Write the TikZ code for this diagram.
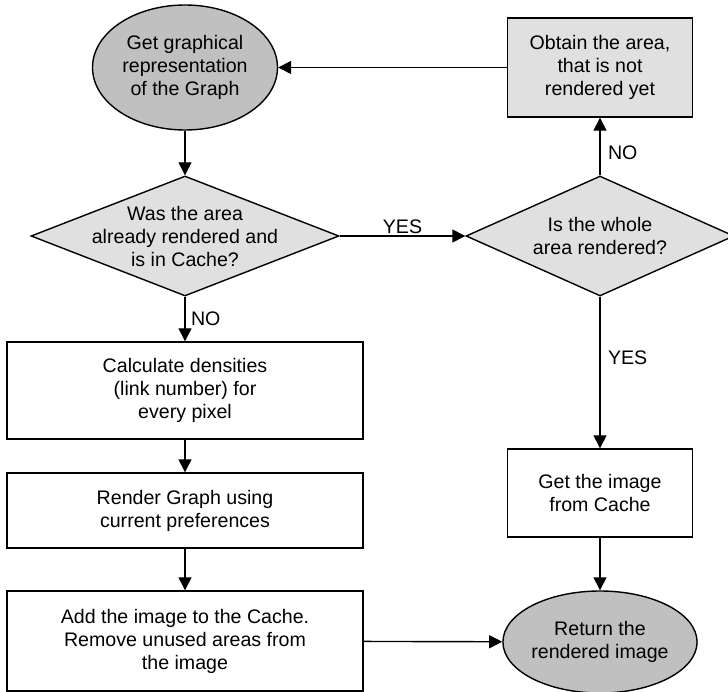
\documentclass[tikz,border=0pt]{standalone}
\usepackage{fontspec}
\setmainfont{Liberation Sans}
\usetikzlibrary{shapes.geometric,arrows.meta}
\definecolor{darkfill}{RGB}{192,192,192}
\definecolor{lightfill}{RGB}{224,224,224}

\begin{document}
\begin{tikzpicture}[x = 1pt, y = -1pt, line width = 1.4pt,
                        font = \fontsize{19.6}{23}\selectfont,
                        term/.style = {ellipse, draw, fill = darkfill, minimum width = 185pt, inner sep = 0pt, align = center},
                        ask/.style = {diamond, draw, fill = lightfill, minimum height = 120pt, align = center},
                        task/.style = {rectangle, draw, minimum width = 185pt, inner sep = 0pt, align = center},
                        flow/.style = {-{Triangle[length = 13pt, width = 13pt]}}]
      \useasboundingbox (0, 0) rectangle (728, 692);
      \node [term, minimum height = 125pt] (getrep) at (185, 67.5){Get graphical\\representation\\of the Graph};
      \node [ask, aspect = 2.567, inner sep = -10pt, minimum width = 308pt] (incache) at (185, 236){Was the area\\already rendered and\\is in Cache?};
      \node [task, minimum width = 356pt, minimum height = 97pt] (density) at (185, 390.5){Calculate densities\\ (link number) for\\every pixel};
      \node [task, minimum width = 356pt, minimum height = 75pt] (render) at (185, 510.5){Render Graph using\\current preferences};
      \node [task, minimum width = 356pt, minimum height = 100pt] (addimg) at (185, 641){Add the image to the Cache.\\Remove unused areas from\\the image};
      \node [task, fill = lightfill, minimum height = 99pt] (obtain) at (600, 67.5){Obtain the area,\\that is not\\rendered yet};
      \node [ask, aspect = 2.233, inner sep = 0pt, minimum width = 268pt] (whole) at (600, 236){Is the whole\\area rendered?};
      \node [task, minimum height = 88pt] (fromcache) at (600, 493){Get the image\\from Cache};
      \node [term, minimum height = 102pt] (retimg) at (600, 642){Return the\\rendered image};
      \draw [flow] (getrep) -- (incache);
      \draw [flow] (incache) -- node [right, xshift = 2pt] {NO} (density);
      \draw [flow] (density) -- (render);
      \draw [flow] (render) -- (addimg);
      \draw [flow] (incache) -- node [above, yshift = -2pt] {YES} (whole);
      \draw [flow] (whole) -- node [right, xshift = 4pt, yshift = -6pt] {NO} (obtain);
      \draw [flow] (obtain) -- (getrep);
      \draw [flow] (whole) -- node [right, xshift = 4pt, pos = 0.4] {YES} (fromcache);
      \draw [flow] (fromcache) -- (retimg);
      \draw [flow] (addimg) -- (retimg);
    \end{tikzpicture}
\end{document}
